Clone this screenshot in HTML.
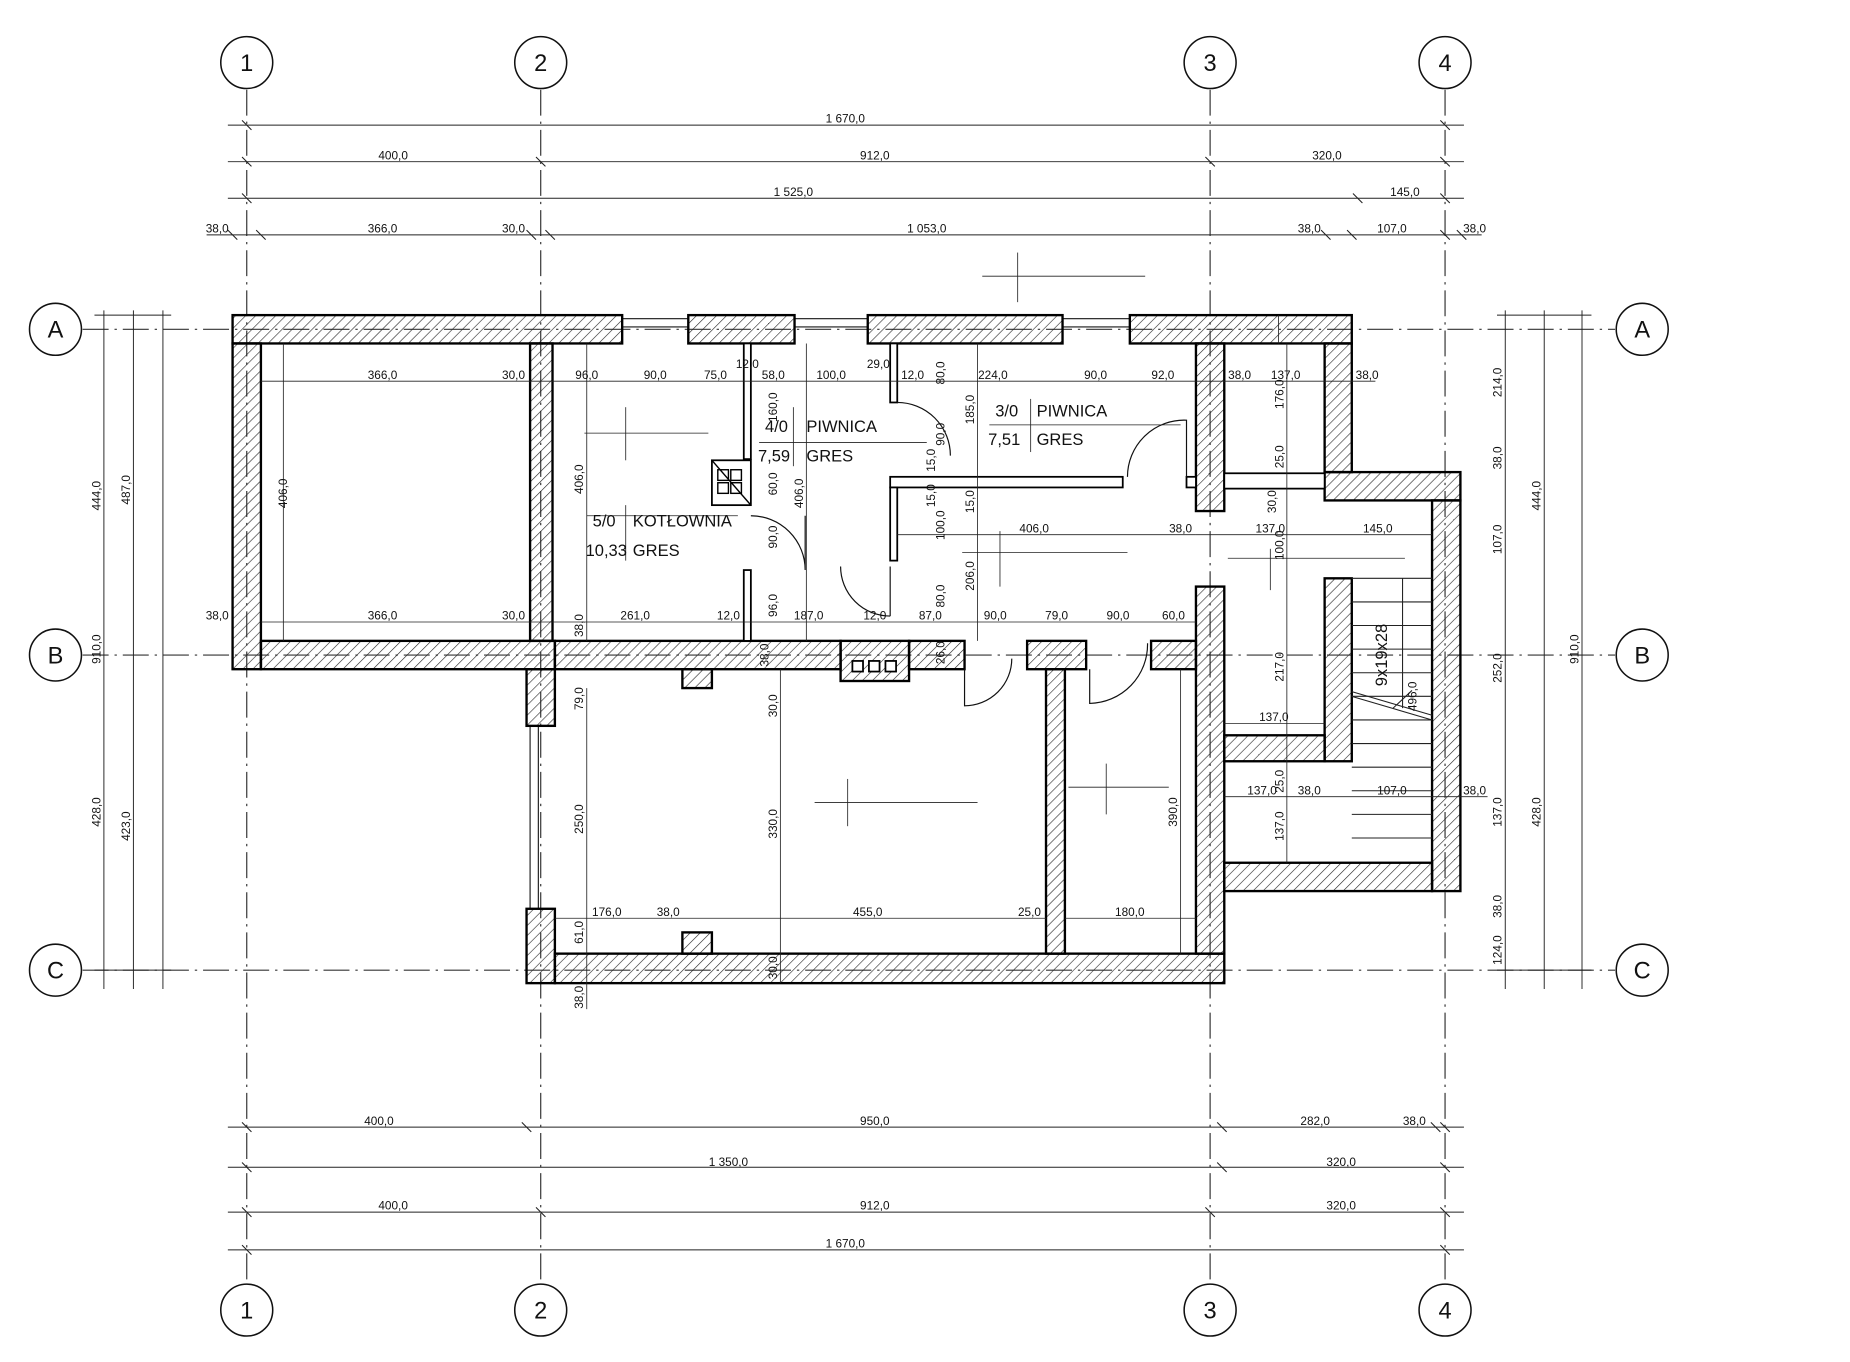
<!DOCTYPE html>
<html><head><meta charset="utf-8"><style>
html,body{margin:0;padding:0;background:#fff}
svg{display:block}
text{font-family:"Liberation Sans",sans-serif;fill:#111}
.d{font-size:10px}
.r{font-size:14px}
.ax{font-size:20px}
</style></head><body>
<svg width="1850" height="1362" viewBox="0 0 1567 1154" preserveAspectRatio="none" xmlns="http://www.w3.org/2000/svg">
<defs>
<pattern id="h" width="6" height="6" patternUnits="userSpaceOnUse" patternTransform="rotate(45)">
<line x1="0" y1="0" x2="0" y2="6" stroke="#222" stroke-width="1"/></pattern>
</defs>
<rect width="1567" height="1154" fill="#fff"/>
<g stroke="#333" stroke-width="1" stroke-dasharray="22,5,2,5" fill="none">
<line x1="209" y1="76" x2="209" y2="1088"/><line x1="458" y1="76" x2="458" y2="1088"/>
<line x1="1025" y1="76" x2="1025" y2="1088"/><line x1="1224" y1="76" x2="1224" y2="1088"/>
<line x1="70" y1="279" x2="1368" y2="279"/><line x1="70" y1="555" x2="1368" y2="555"/>
<line x1="70" y1="822" x2="1368" y2="822"/>
</g>
<g fill="#fff" stroke="#111" stroke-width="1.3">
<circle cx="209" cy="53" r="22"/><circle cx="458" cy="53" r="22"/><circle cx="1025" cy="53" r="22"/><circle cx="1224" cy="53" r="22"/>
<circle cx="209" cy="1110" r="22"/><circle cx="458" cy="1110" r="22"/><circle cx="1025" cy="1110" r="22"/><circle cx="1224" cy="1110" r="22"/>
<circle cx="47" cy="279" r="22"/><circle cx="47" cy="555" r="22"/><circle cx="47" cy="822" r="22"/>
<circle cx="1391" cy="279" r="22"/><circle cx="1391" cy="555" r="22"/><circle cx="1391" cy="822" r="22"/>
</g>
<g class="ax" text-anchor="middle">
<text x="209" y="60">1</text><text x="458" y="60">2</text><text x="1025" y="60">3</text><text x="1224" y="60">4</text>
<text x="209" y="1117">1</text><text x="458" y="1117">2</text><text x="1025" y="1117">3</text><text x="1224" y="1117">4</text>
<text x="47" y="286">A</text><text x="47" y="562">B</text><text x="47" y="829">C</text>
<text x="1391" y="286">A</text><text x="1391" y="562">B</text><text x="1391" y="829">C</text>
</g>
<g stroke="#222" stroke-width="0.8">
<line x1="193" y1="106" x2="1240" y2="106"/><line x1="193" y1="137" x2="1240" y2="137"/>
<line x1="193" y1="168" x2="1240" y2="168"/><line x1="175" y1="199" x2="1255" y2="199"/>
<line x1="193" y1="955" x2="1240" y2="955"/><line x1="193" y1="989" x2="1240" y2="989"/>
<line x1="193" y1="1027" x2="1240" y2="1027"/><line x1="193" y1="1059" x2="1240" y2="1059"/>
<line x1="88" y1="263" x2="88" y2="838"/><line x1="113" y1="263" x2="113" y2="838"/><line x1="138" y1="263" x2="138" y2="838"/>
<line x1="1275" y1="263" x2="1275" y2="838"/><line x1="1308" y1="263" x2="1308" y2="838"/><line x1="1340" y1="263" x2="1340" y2="838"/>
<line x1="80" y1="267" x2="145" y2="267"/><line x1="80" y1="822" x2="145" y2="822"/><line x1="1268" y1="267" x2="1348" y2="267"/><line x1="1268" y1="822" x2="1348" y2="822"/>
</g>
<g stroke="#222" stroke-width="0.9">
<path d="M205,102l8,8M1220,102l8,8M205,133l8,8M454,133l8,8M1021,133l8,8M1220,133l8,8M205,164l8,8M1146,164l8,8M1220,164l8,8M193,195l8,8M217,195l8,8M446,195l8,8M462,195l8,8M1119,195l8,8M1141,195l8,8M1220,195l8,8M1234,195l8,8"/>
<path d="M205,951l8,8M442,951l8,8M1031,951l8,8M1212,951l8,8M1220,951l8,8M205,985l8,8M1031,985l8,8M1220,985l8,8M205,1023l8,8M454,1023l8,8M1021,1023l8,8M1220,1023l8,8M205,1055l8,8M1220,1055l8,8"/>
</g>
<g class="d" text-anchor="middle">
<text x="716" y="104">1 670,0</text>
<text x="333" y="135">400,0</text><text x="741" y="135">912,0</text><text x="1124" y="135">320,0</text>
<text x="672" y="166">1 525,0</text><text x="1190" y="166">145,0</text>
<text x="184" y="197">38,0</text><text x="324" y="197">366,0</text><text x="435" y="197">30,0</text><text x="785" y="197">1 053,0</text><text x="1109" y="197">38,0</text><text x="1179" y="197">107,0</text><text x="1249" y="197">38,0</text>
<text x="321" y="953">400,0</text><text x="741" y="953">950,0</text><text x="1114" y="953">282,0</text><text x="1198" y="953">38,0</text>
<text x="617" y="988">1 350,0</text><text x="1136" y="988">320,0</text>
<text x="333" y="1025">400,0</text><text x="741" y="1025">912,0</text><text x="1136" y="1025">320,0</text>
<text x="716" y="1057">1 670,0</text>
<text transform="translate(85,420) rotate(-90)">444,0</text><text transform="translate(85,550) rotate(-90)">910,0</text><text transform="translate(85,688) rotate(-90)">428,0</text>
<text transform="translate(110,415) rotate(-90)">487,0</text><text transform="translate(110,700) rotate(-90)">423,0</text>
<text transform="translate(1272,324) rotate(-90)">214,0</text><text transform="translate(1272,388) rotate(-90)">38,0</text><text transform="translate(1272,457) rotate(-90)">107,0</text><text transform="translate(1272,566) rotate(-90)">252,0</text><text transform="translate(1272,688) rotate(-90)">137,0</text><text transform="translate(1272,768) rotate(-90)">38,0</text><text transform="translate(1272,805) rotate(-90)">124,0</text>
<text transform="translate(1305,420) rotate(-90)">444,0</text><text transform="translate(1305,688) rotate(-90)">428,0</text>
<text transform="translate(1337,550) rotate(-90)">910,0</text>
</g>
<g stroke="#222" stroke-width="1" fill="none">
<rect x="527" y="270" width="56" height="7"/><rect x="673" y="270" width="62" height="7"/><rect x="900" y="270" width="57" height="7"/>
<rect x="449" y="615" width="7" height="155"/>
</g>
<g fill="url(#h)" stroke="#000" stroke-width="2">
<rect x="197" y="267" width="330" height="24"/><rect x="583" y="267" width="90" height="24"/><rect x="735" y="267" width="165" height="24"/><rect x="957" y="267" width="188" height="24"/>
<rect x="197" y="291" width="24" height="276"/><rect x="221" y="543" width="249" height="24"/>
<rect x="449" y="291" width="19" height="252"/>
<rect x="446" y="567" width="24" height="48"/><rect x="446" y="770" width="24" height="63"/>
<rect x="470" y="808" width="567" height="25"/><rect x="578" y="790" width="25" height="18"/>
<rect x="470" y="543" width="242" height="24"/><rect x="770" y="543" width="47" height="24"/><rect x="870" y="543" width="50" height="24"/><rect x="975" y="543" width="38" height="24"/>
<rect x="578" y="567" width="25" height="16"/>
<rect x="1013" y="291" width="24" height="142"/><rect x="1013" y="497" width="24" height="311"/>
<rect x="1122" y="291" width="23" height="109"/><rect x="1122" y="400" width="115" height="24"/>
<rect x="1213" y="424" width="24" height="331"/><rect x="1037" y="731" width="176" height="24"/>
<rect x="1122" y="490" width="23" height="155"/><rect x="1037" y="623" width="85" height="22"/>
<rect x="886" y="567" width="16" height="241"/>
<rect x="712" y="543" width="58" height="34"/>
</g>
<g fill="#fff" stroke="#000" stroke-width="1.5">
<rect x="1037" y="401" width="85" height="13"/>
<rect x="754" y="404" width="197" height="9"/><rect x="1005" y="404" width="8" height="9"/>
<rect x="630" y="291" width="6" height="98"/><rect x="630" y="483" width="6" height="60"/>
<rect x="754" y="291" width="6" height="50"/><rect x="754" y="413" width="6" height="62"/>
<rect x="603" y="390" width="33" height="38"/>
<rect x="722" y="560" width="9" height="9"/><rect x="736" y="560" width="9" height="9"/><rect x="750" y="560" width="9" height="9"/>
</g>
<g stroke="#000" stroke-width="1.2" fill="none">
<rect x="608" y="398" width="9" height="9"/><rect x="619" y="398" width="9" height="9"/><rect x="608" y="409" width="9" height="9"/><rect x="619" y="409" width="9" height="9"/>
<line x1="603" y1="390" x2="636" y2="428"/>
</g>
<g stroke="#111" stroke-width="1" fill="none">
<path d="M636,437 A46,46 0 0 1 682,483 M682,483 V437"/>
<path d="M760,341 A45,45 0 0 1 805,386"/>
<path d="M712,480 A42,42 0 0 0 754,522 M754,522 V480"/>
<path d="M1005,404 V356 A48,48 0 0 0 955,404"/>
<path d="M817,567 V598 A40,40 0 0 0 857,558"/>
<path d="M923,567 V596 A50,50 0 0 0 972,545"/>
</g>
<g stroke="#222" stroke-width="0.9">
<path d="M1145,490H1213M1145,510H1213M1145,530H1213M1145,550H1213M1145,570H1213M1145,590H1213M1145,610H1213M1145,630H1213M1145,650H1213M1145,670H1213M1145,690H1213M1145,710H1213"/>
<line x1="1188" y1="490" x2="1188" y2="600"/>
<line x1="1145" y1="586" x2="1213" y2="606"/><line x1="1145" y1="590" x2="1213" y2="610"/>
<line x1="1180" y1="600" x2="1196" y2="585"/>
</g>
<g stroke="#222" stroke-width="0.7">
<line x1="221" y1="323" x2="1165" y2="323"/><line x1="221" y1="527" x2="1013" y2="527"/>
<line x1="760" y1="453" x2="1013" y2="453"/><line x1="1013" y1="453" x2="1213" y2="453"/>
<line x1="470" y1="778" x2="886" y2="778"/><line x1="902" y1="778" x2="1013" y2="778"/>
<line x1="1037" y1="675" x2="1260" y2="675"/><line x1="1037" y1="613" x2="1122" y2="613"/>
<line x1="240" y1="291" x2="240" y2="543"/><line x1="497" y1="291" x2="497" y2="543"/>
<line x1="683" y1="291" x2="683" y2="543"/><line x1="661" y1="567" x2="661" y2="833"/>
<line x1="497" y1="583" x2="497" y2="855"/><line x1="1000" y1="567" x2="1000" y2="808"/>
<line x1="828" y1="291" x2="828" y2="543"/><line x1="1090" y1="291" x2="1090" y2="731"/>
<line x1="1083" y1="267" x2="1083" y2="291"/>
<line x1="495" y1="367" x2="600" y2="367"/><line x1="530" y1="345" x2="530" y2="390"/>
<line x1="643" y1="375" x2="785" y2="375"/><line x1="832" y1="234" x2="970" y2="234"/><line x1="862" y1="214" x2="862" y2="256"/>
<line x1="815" y1="468" x2="955" y2="468"/><line x1="847" y1="450" x2="847" y2="497"/>
<line x1="1040" y1="473" x2="1190" y2="473"/><line x1="1076" y1="465" x2="1076" y2="500"/>
<line x1="690" y1="680" x2="828" y2="680"/><line x1="718" y1="660" x2="718" y2="700"/>
<line x1="905" y1="667" x2="990" y2="667"/><line x1="937" y1="647" x2="937" y2="690"/>
<line x1="497" y1="437" x2="625" y2="437"/><line x1="838" y1="360" x2="1000" y2="360"/>
<line x1="672" y1="345" x2="672" y2="395"/><line x1="873" y1="338" x2="873" y2="383"/><line x1="530" y1="428" x2="530" y2="475"/>
</g>
<g class="d" text-anchor="middle">
<text x="324" y="321">366,0</text><text x="435" y="321">30,0</text><text x="497" y="321">96,0</text><text x="555" y="321">90,0</text><text x="606" y="321">75,0</text><text x="655" y="321">58,0</text><text x="704" y="321">100,0</text><text x="773" y="321">12,0</text><text x="841" y="321">224,0</text><text x="928" y="321">90,0</text><text x="985" y="321">92,0</text><text x="1050" y="321">38,0</text><text x="1089" y="321">137,0</text><text x="1158" y="321">38,0</text>
<text x="633" y="312">12,0</text><text x="744" y="312">29,0</text>
<text x="184" y="525">38,0</text><text x="324" y="525">366,0</text><text x="435" y="525">30,0</text><text x="538" y="525">261,0</text><text x="617" y="525">12,0</text><text x="685" y="525">187,0</text><text x="741" y="525">12,0</text><text x="788" y="525">87,0</text><text x="843" y="525">90,0</text><text x="895" y="525">79,0</text><text x="947" y="525">90,0</text><text x="994" y="525">60,0</text>
<text x="876" y="451">406,0</text><text x="1000" y="451">38,0</text><text x="1076" y="451">137,0</text><text x="1167" y="451">145,0</text>
<text x="1079" y="611">137,0</text><text x="1069" y="673">137,0</text><text x="1109" y="673">38,0</text><text x="1179" y="673">107,0</text><text x="1249" y="673">38,0</text>
<text x="514" y="776">176,0</text><text x="566" y="776">38,0</text><text x="735" y="776">455,0</text><text x="872" y="776">25,0</text><text x="957" y="776">180,0</text>
<text transform="translate(243,418) rotate(-90)">406,0</text><text transform="translate(494,406) rotate(-90)">406,0</text><text transform="translate(680,418) rotate(-90)">406,0</text>
<text transform="translate(658,345) rotate(-90)">160,0</text><text transform="translate(658,410) rotate(-90)">60,0</text><text transform="translate(658,455) rotate(-90)">90,0</text><text transform="translate(658,513) rotate(-90)">96,0</text>
<text transform="translate(494,530) rotate(-90)">38,0</text><text transform="translate(651,555) rotate(-90)">38,0</text><text transform="translate(494,592) rotate(-90)">79,0</text><text transform="translate(494,694) rotate(-90)">250,0</text><text transform="translate(494,790) rotate(-90)">61,0</text><text transform="translate(494,845) rotate(-90)">38,0</text>
<text transform="translate(658,598) rotate(-90)">30,0</text><text transform="translate(658,698) rotate(-90)">330,0</text><text transform="translate(658,820) rotate(-90)">30,0</text>
<text transform="translate(800,316) rotate(-90)">80,0</text><text transform="translate(800,368) rotate(-90)">90,0</text><text transform="translate(792,390) rotate(-90)">15,0</text><text transform="translate(792,420) rotate(-90)">15,0</text><text transform="translate(800,445) rotate(-90)">100,0</text><text transform="translate(800,505) rotate(-90)">80,0</text><text transform="translate(800,553) rotate(-90)">26,0</text>
<text transform="translate(825,347) rotate(-90)">185,0</text><text transform="translate(825,425) rotate(-90)">15,0</text><text transform="translate(825,488) rotate(-90)">206,0</text>
<text transform="translate(1087,334) rotate(-90)">176,0</text><text transform="translate(1087,387) rotate(-90)">25,0</text><text transform="translate(1081,425) rotate(-90)">30,0</text><text transform="translate(1087,462) rotate(-90)">100,0</text><text transform="translate(1087,565) rotate(-90)">217,0</text><text transform="translate(1087,662) rotate(-90)">25,0</text><text transform="translate(1087,700) rotate(-90)">137,0</text>
<text transform="translate(997,688) rotate(-90)">390,0</text><text transform="translate(1200,590) rotate(-90)">496,0</text>
<text class="r" transform="translate(1175,555) rotate(-90)">9x19x28</text>
</g>
<g class="r">
<text x="502" y="446">5/0</text><text x="536" y="446">KOTŁOWNIA</text><text x="496" y="471">10,33</text><text x="536" y="471">GRES</text>
<text x="648" y="366">4/0</text><text x="683" y="366">PIWNICA</text><text x="642" y="391">7,59</text><text x="683" y="391">GRES</text>
<text x="843" y="353">3/0</text><text x="878" y="353">PIWNICA</text><text x="837" y="377">7,51</text><text x="878" y="377">GRES</text>
</g>
</svg>
</body></html>
